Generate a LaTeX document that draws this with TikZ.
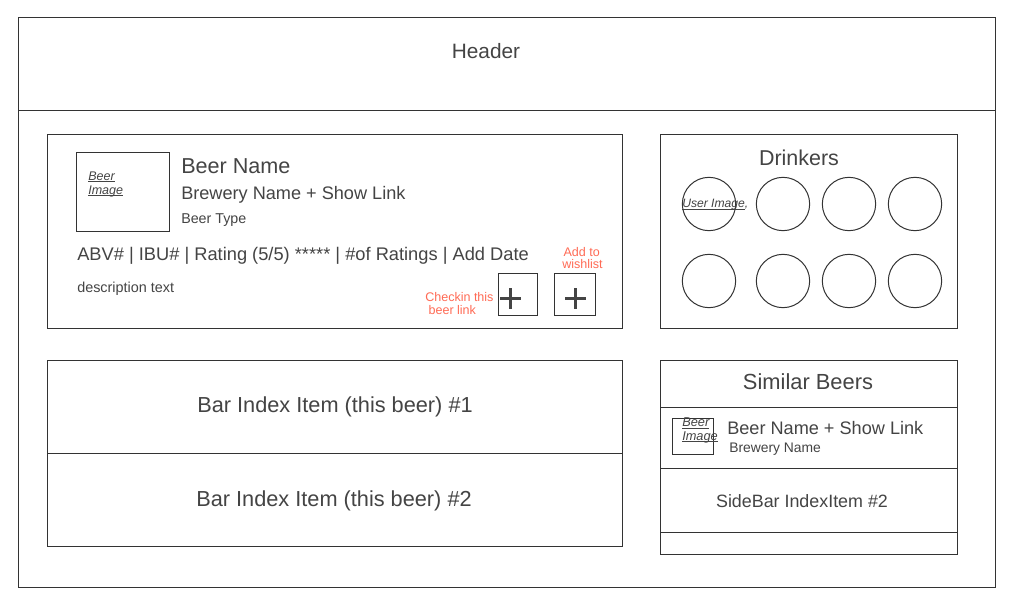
\documentclass[tikz,border=0pt]{standalone}
\usepackage{fontspec}
\setmainfont{Liberation Sans}
\usetikzlibrary{calc}
\definecolor{ink}{HTML}{444444}
\definecolor{edge}{HTML}{333333}
\definecolor{redtxt}{HTML}{FF6B55}
\newcommand\fsz[1]{\fontsize{#1}{1.2\dimexpr #1pt\relax}\selectfont}
\newcommand\ulx[1]{\setbox0\hbox{#1}\rlap{\rule[-1.3pt]{\wd0}{0.55pt}}\box0}
\begin{document}
\begin{tikzpicture}[x=0.75pt,y=-0.75pt,
  box/.style={draw=edge,line width=0.75pt},
  txt/.style={inner sep=0pt,text=ink},
  lt/.style={txt,anchor=west},
  imgtxt/.style={lt,align=left,font=\fsz{9.2}\itshape},
  redlbl/.style={inner sep=0pt,text=redtxt,anchor=west,align=left},
  avatar/.style={circle,draw=edge,line width=0.75pt,minimum size=40pt,inner sep=0pt},
  plusline/.style={draw=ink,line width=2.4pt}]
\useasboundingbox (0,0) rectangle (1011,600);
\fill[white] (0,0) rectangle (1011,600);
% outer frame and header
\draw[box] (18,17) rectangle (995,587);
\draw[box] (18,110) -- (995,110);
\node[txt,font=\fsz{15.6}] (header) at (486,51) {Header};
% main beer box
\draw[box] (47,134) rectangle (622,328);
\draw[box] (76,152) rectangle (169,231);
\node[imgtxt,font=\fsz{9.4}\itshape] (bimg) at (88,184) {\ulx{Beer}\\[-0.8pt]\ulx{Image}};
\node[lt,font=\fsz{16.2}] (bname) at (181,166) {Beer Name};
\node[lt,font=\fsz{13.6}] (brew) at (181,195) {Brewery Name + Show Link};
\node[lt,font=\fsz{10.7}] (btype) at (181,220.5) {Beer Type};
\node[lt,font=\fsz{13.7}] (abv) at (77,256) {ABV\# | IBU\# | Rating (5/5) ***** | \#of Ratings | Add Date};
\node[lt,font=\fsz{10.8}] (desc) at (77,288.5) {description text};
\node[redlbl,font=\fsz{9.4}] (checkin) at (425,303.5) {Checkin this\\[-2pt]\hspace{2.5pt}beer link};
\node[redlbl,font=\fsz{9.4}] (wish) at (562,258) {\hspace{1pt}Add to\\[-3pt]wishlist};
\draw[box] (498,273) rectangle (537,315);
\draw[box] (554,273) rectangle (595,315);
\coordinate (p1) at (510.5,298.5);
\coordinate (p2) at (575.8,298.5);
\draw[plusline] ($(p1)+(-10.5,0)$) -- ($(p1)+(10.5,0)$);
\draw[plusline] ($(p1)+(0,-10.5)$) -- ($(p1)+(0,10.5)$);
\draw[plusline] ($(p2)+(-10.5,0)$) -- ($(p2)+(10.5,0)$);
\draw[plusline] ($(p2)+(0,-10.5)$) -- ($(p2)+(0,10.5)$);
% drinkers
\draw[box] (660,134) rectangle (957,328);
\node[txt,font=\fsz{16.1}] (drinkers) at (799,157.5) {Drinkers};
\node[avatar] (a1) at (709,204) {};
\node[avatar] (a2) at (783,204) {};
\node[avatar] (a3) at (849,204) {};
\node[avatar] (a4) at (915,204) {};
\node[avatar] (a5) at (709,281) {};
\node[avatar] (a6) at (783,281) {};
\node[avatar] (a7) at (849,281) {};
\node[avatar] (a8) at (915,281) {};
\node[lt,font=\fsz{9.1}\itshape] (uimg) at (682,205) {\ulx{User Image},};
% bar index items
\draw[box] (47,360) rectangle (622,546);
\draw[box] (47,453) -- (622,453);
\node[txt,font=\fsz{16.3}] (bar1) at (335,406.5) {Bar Index Item (this beer) \#1};
\node[txt,font=\fsz{16.3}] (bar2) at (334,500.5) {Bar Index Item (this beer) \#2};
% similar beers
\draw[box] (660,360) rectangle (957,554);
\draw[box] (660,407) -- (957,407);
\draw[box] (660,468) -- (957,468);
\draw[box] (660,532) -- (957,532);
\node[txt,font=\fsz{16.4}] (similar) at (808,382) {Similar Beers};
\draw[box] (672,418) rectangle (713,454);
\node[imgtxt,font=\fsz{9.6}\itshape] (simg) at (682,430.5) {\ulx{Beer}\\[-1.2pt]\ulx{Image}};
\node[lt,font=\fsz{13.6}] (sname) at (727,428) {Beer Name + Show Link};
\node[lt,font=\fsz{10.4}] (sbrew) at (729,449) {Brewery Name};
\node[txt,font=\fsz{13.4}] (side2) at (802,501) {SideBar IndexItem \#2};
\end{tikzpicture}
\end{document}
